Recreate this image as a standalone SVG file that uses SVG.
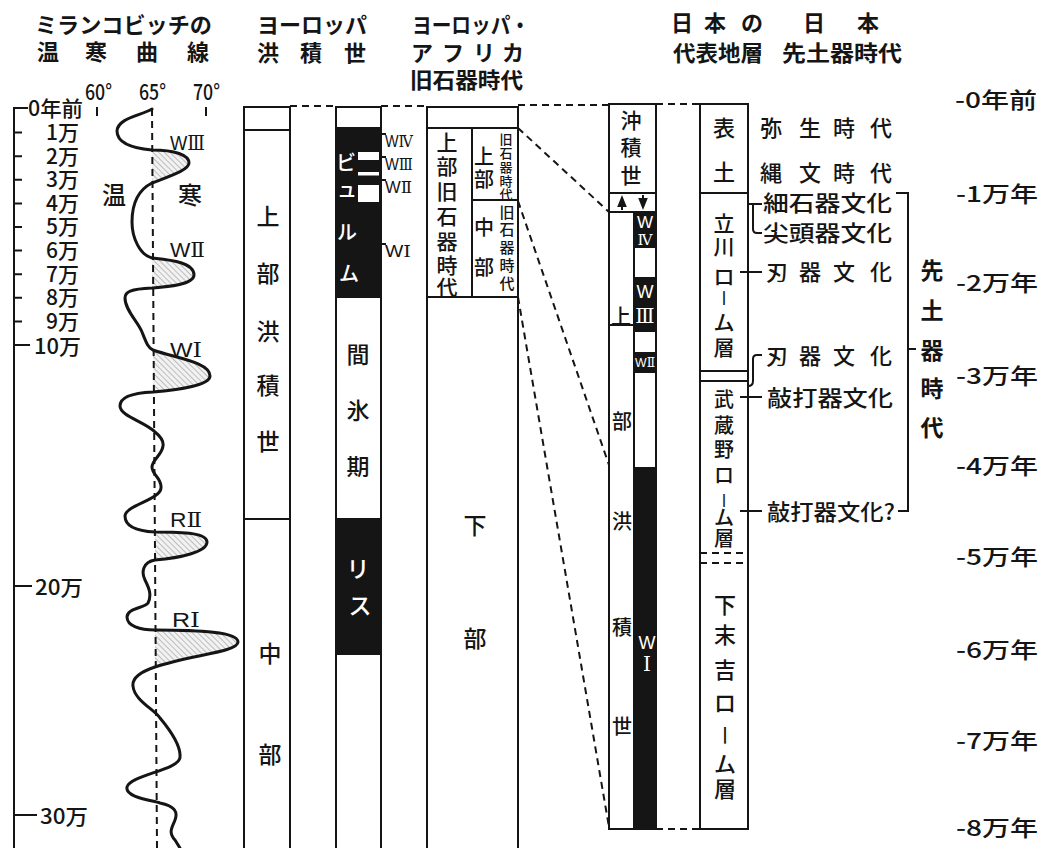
<svg xmlns="http://www.w3.org/2000/svg" width="1048" height="848" viewBox="0 0 1048 848">
<style>
.t{font-family:"Noto Sans CJK JP","Noto Sans CJK SC",sans-serif;fill:#151515;font-weight:500}
.h{font-size:22px;font-weight:600}
.bd{font-weight:700}
.m{text-anchor:middle}
.e{text-anchor:end}
.lat{font-family:"Liberation Sans",sans-serif;fill:#151515}
.ser{font-family:"DejaVu Serif","Liberation Serif",serif}
.t.w,.lat.w,.w{fill:#fff}
.ln{stroke:#151515;stroke-width:2;fill:none}
.thk{stroke:#151515;stroke-width:3;fill:none;stroke-linecap:round;stroke-linejoin:round}
.dsh{stroke:#151515;stroke-width:2;fill:none;stroke-dasharray:7 5}
.blk{fill:#151515}
.hat{fill:url(#hatch)}
</style>
<defs>
<pattern id="hatch" width="4" height="4" patternUnits="userSpaceOnUse" patternTransform="rotate(-45)">
<rect width="4" height="4" fill="#f2f2f2"/>
<line x1="0" y1="0" x2="0" y2="4" stroke="#9a9a9a" stroke-width="1.2"/>
</pattern>
<marker id="ah" viewBox="0 0 10 10" refX="5" refY="5" markerWidth="6" markerHeight="6" orient="auto">
<path d="M0,1 L10,5 L0,9 Z" fill="#151515"/>
</marker>
</defs>
<rect width="1048" height="848" fill="#fff"/>

<!-- headers -->
<g id="headers" class="t h">
<text x="35" y="33" textLength="177" lengthAdjust="spacingAndGlyphs">ミランコビッチの</text>
<text class="m"><tspan x="48" y="60">温</tspan><tspan x="96" y="60">寒</tspan><tspan x="147" y="60">曲</tspan><tspan x="198" y="60">線</tspan></text>
<text x="257" y="33" textLength="110" lengthAdjust="spacingAndGlyphs">ヨーロッパ</text>
<text class="m"><tspan x="268" y="61">洪</tspan><tspan x="311" y="61">積</tspan><tspan x="355" y="61">世</tspan></text>
<text x="412" y="33" textLength="118" lengthAdjust="spacingAndGlyphs">ヨーロッパ・</text>
<text class="m"><tspan x="422" y="61">ア</tspan><tspan x="453" y="61">フ</tspan><tspan x="484" y="61">リ</tspan><tspan x="513" y="61">カ</tspan></text>
<text x="410" y="88" textLength="113" lengthAdjust="spacingAndGlyphs">旧石器時代</text>
<text class="m"><tspan x="682" y="31">日</tspan><tspan x="715" y="31">本</tspan><tspan x="752" y="31">の</tspan><tspan x="814" y="31">日</tspan><tspan x="868" y="31">本</tspan></text>
<text x="673" y="61" textLength="90" lengthAdjust="spacingAndGlyphs">代表地層</text>
<text x="782" y="61" textLength="120" lengthAdjust="spacingAndGlyphs">先土器時代</text>
</g>

<!-- Milankovitch curve panel -->
<g id="curve-panel">
<path class="ln" d="M28,108 H14 V848" stroke-width="2.5"/>
<path class="ln" d="M14,132.6 H22 M14,156.2 H22 M14,179.8 H22 M14,203.4 H22 M14,227 H22 M14,250.6 H22 M14,274.2 H22 M14,297.8 H22 M14,321.4 H22 M14,345 H30 M14,586 H32 M14,815 H37"/>
<g class="t" font-size="21">
<text x="28" y="115.5" textLength="55" lengthAdjust="spacingAndGlyphs">0年前</text>
<text class="e" x="79" y="140">1万</text>
<text class="e" x="79" y="164">2万</text>
<text class="e" x="79" y="187">3万</text>
<text class="e" x="79" y="211">4万</text>
<text class="e" x="79" y="234">5万</text>
<text class="e" x="79" y="258">6万</text>
<text class="e" x="79" y="282">7万</text>
<text class="e" x="79" y="305">8万</text>
<text class="e" x="79" y="329">9万</text>
<text x="34" y="354" textLength="47" lengthAdjust="spacingAndGlyphs">10万</text>
<text x="35" y="595" textLength="48" lengthAdjust="spacingAndGlyphs">20万</text>
<text x="40" y="824" textLength="48" lengthAdjust="spacingAndGlyphs">30万</text>
</g>
<g class="t" font-size="22">
<text x="85" y="100" textLength="27" lengthAdjust="spacingAndGlyphs">60°</text>
<text x="139" y="100" textLength="27" lengthAdjust="spacingAndGlyphs">65°</text>
<text x="193" y="100" textLength="27" lengthAdjust="spacingAndGlyphs">70°</text>
</g>
<path class="ln" d="M97,107 V116 M206,107 V116"/>
<path class="hat" d="M152,150 C175,150 189,155 189,163 C189,170 170,176 152,183 Z"/>
<path class="hat" d="M152,258 C170,260 194,262 194,275 C194,285 165,287 152,288 Z"/>
<path class="hat" d="M153,350 C175,358 210,362 210,376 C210,386 175,390 153,392 Z"/>
<path class="hat" d="M155,532 C185,532 207,533 207,542 C207,552 180,558 155,560 Z"/>
<path class="hat" d="M155,630 C200,630 238,632 238,642 C238,652 190,655 155,667 Z"/>
<path class="dsh" d="M152,109 L157,848" stroke-dasharray="10 6"/>
<path class="thk" d="M152,109 C140,116 118,118 117,131 C117,142 130,148 152,150 C175,150 189,155 189,163 C189,170 170,176 152,183 C138,190 132,205 132,222 C132,238 140,255 152,258 C170,260 194,262 194,275 C194,285 165,287 152,288 C130,289 125,292 125,298 C125,310 138,322 142,332 C146,342 148,348 153,350 C175,358 210,362 210,376 C210,386 175,390 153,392 C130,393 120,398 120,406 C120,416 145,422 155,432 C160,436 164,440 163,446 C162,455 152,460 152,467 C152,475 162,478 161,488 C160,500 126,505 125,516 C125,526 135,531 155,532 C185,532 207,533 207,542 C207,552 180,558 155,560 C143,562 141,572 145,580 C149,588 152,595 148,603 C145,608 127,608 127,617 C127,626 140,630 155,630 C200,630 238,632 238,642 C238,652 190,655 155,667 C140,672 132,678 133,686 C134,700 155,710 160,718 C170,730 181,745 180,757 C180,770 130,775 127,787 C125,797 150,800 160,803 C175,806 178,812 175,820 C172,828 168,832 175,840 L180,848"/>
<g class="t" font-size="24"><text class="m" x="114" y="204">温</text><text class="m" x="190" y="204">寒</text></g>
<g class="lat" font-size="20">
<text x="170" y="150" textLength="35" lengthAdjust="spacingAndGlyphs">W<tspan class="ser">Ⅲ</tspan></text>
<text x="170" y="257" textLength="35" lengthAdjust="spacingAndGlyphs">W<tspan class="ser">Ⅱ</tspan></text>
<text x="170" y="357" textLength="32" lengthAdjust="spacingAndGlyphs">W<tspan class="ser">Ⅰ</tspan></text>
<text x="170" y="527" textLength="32" lengthAdjust="spacingAndGlyphs">R<tspan class="ser">Ⅱ</tspan></text>
<text x="172" y="627" textLength="28" lengthAdjust="spacingAndGlyphs">R<tspan class="ser">Ⅰ</tspan></text>
</g>
</g>

<!-- Europe Pleistocene column -->
<g id="col-pleistocene">
<path class="ln" d="M244,848 V107 H290 V848 M244,130 H290 M244,519 H290"/>
<text class="t m" font-size="23"><tspan x="268" y="224.5">上</tspan><tspan x="268" y="281.5">部</tspan><tspan x="268" y="339.5">洪</tspan><tspan x="268" y="393.5">積</tspan><tspan x="268" y="449.5">世</tspan><tspan x="270" y="661.5">中</tspan><tspan x="270" y="762.5">部</tspan></text>
</g>

<!-- Europe glacial stages column -->
<g id="col-europe">
<rect class="blk" x="336" y="128" width="45" height="170"/>
<rect fill="#fff" x="358" y="152" width="21" height="8"/>
<rect fill="#fff" x="358" y="172" width="21" height="3.5"/>
<rect fill="#fff" x="358" y="185" width="21" height="17"/>
<rect class="blk" x="336" y="518" width="45" height="137"/>
<path class="ln" d="M336,848 V107 H381 V848 M336,128 H381"/>
<text class="t m w" font-size="20"><tspan x="346" y="170">ビ</tspan><tspan x="347" y="197">ュ</tspan><tspan x="347" y="239.5">ル</tspan><tspan x="349" y="280.5">ム</tspan></text>
<text class="t m" font-size="23"><tspan x="358" y="362.5">間</tspan><tspan x="358" y="418.5">氷</tspan><tspan x="358" y="474.5">期</tspan></text>
<text class="t m w" font-size="23"><tspan x="358" y="576.5">リ</tspan><tspan x="360" y="613.5">ス</tspan></text>
<path class="ln" d="M381,134 H386 M381,157 H386 M381,180 H386 M381,244 H386" stroke-width="1.5"/>
<g class="lat" font-size="17">
<text x="385" y="147" textLength="28" lengthAdjust="spacingAndGlyphs">W<tspan class="ser">Ⅳ</tspan></text>
<text x="385" y="170" textLength="28" lengthAdjust="spacingAndGlyphs">W<tspan class="ser">Ⅲ</tspan></text>
<text x="385" y="193" textLength="27" lengthAdjust="spacingAndGlyphs">W<tspan class="ser">Ⅱ</tspan></text>
<text x="385" y="257" textLength="26" lengthAdjust="spacingAndGlyphs">W<tspan class="ser">Ⅰ</tspan></text>
</g>
</g>

<!-- Europe/Africa paleolithic column -->
<g id="col-paleolithic">
<path class="ln" d="M427,848 V107 H518 V848 M427,128 H518 M472,128 V297 M472,200 H518 M427,297 H518"/>
<text class="t m" font-size="21"><tspan x="447" y="149.8">上</tspan><tspan x="447" y="173.8">部</tspan><tspan x="447" y="198.8">旧</tspan><tspan x="447" y="223.8">石</tspan><tspan x="447" y="248.8">器</tspan><tspan x="447" y="272.8">時</tspan><tspan x="447" y="294.8">代</tspan></text>
<text class="t m" font-size="20"><tspan x="484" y="164.4">上</tspan><tspan x="484" y="187.4">部</tspan><tspan x="484" y="235.4">中</tspan><tspan x="484" y="275.4">部</tspan></text>
<text class="t m" font-size="13"><tspan x="506" y="143.8">旧</tspan><tspan x="506" y="157.8">石</tspan><tspan x="506" y="171.8">器</tspan><tspan x="506" y="185.8">時</tspan><tspan x="506" y="198.8">代</tspan></text>
<text class="t m" font-size="15"><tspan x="507" y="217.5">旧</tspan><tspan x="507" y="234.5">石</tspan><tspan x="507" y="252.5">器</tspan><tspan x="507" y="270.5">時</tspan><tspan x="507" y="288.5">代</tspan></text>
<text class="t m" font-size="23"><tspan x="475" y="533.5">下</tspan><tspan x="475" y="646.5">部</tspan></text>
</g>

<!-- Japan representative strata (Holocene / Pleistocene) -->
<g id="col-japan-strata">
<rect class="blk" x="634" y="212" width="22" height="36"/>
<rect class="blk" x="634" y="277" width="22" height="55"/>
<rect class="blk" x="634" y="352" width="22" height="21"/>
<rect class="blk" x="634" y="467" width="22" height="362"/>
<path class="ln" d="M609,829 V104 H656 V829 Z M609,193 H656 M609,212 H656 M634,212 V829 M609,325 H633"/>
<path class="ln" d="M622,210 V201" stroke-width="1.5" marker-end="url(#ah)"/>
<path class="ln" d="M643,195 V204" stroke-width="1.5" marker-end="url(#ah)"/>
<text class="t m" font-size="21"><tspan x="631" y="127.8">沖</tspan><tspan x="631" y="154.8">積</tspan><tspan x="631" y="182.8">世</tspan></text>
<text class="t m" font-size="20"><tspan x="621" y="324.4">上</tspan><tspan x="622" y="429.4">部</tspan><tspan x="622" y="529.4">洪</tspan><tspan x="622" y="635.4">積</tspan><tspan x="622" y="734.4">世</tspan></text>
<g class="lat w m" font-size="15">
<text class="lat w" x="645" y="228" font-size="17">W</text><text class="lat w ser" x="645" y="245">Ⅳ</text>
<text class="lat w" x="645" y="297.5" font-size="18">W</text><text class="lat w ser" x="645" y="323" font-size="20">Ⅲ</text>
<text class="lat w" x="645" y="367" font-size="13" textLength="20" lengthAdjust="spacingAndGlyphs">W<tspan class="ser">Ⅱ</tspan></text>
<text class="lat w" x="647" y="648.5" font-size="18">W</text><text class="lat w ser" x="647" y="671" font-size="20">Ⅰ</text>
</g>
</g>

<!-- Japan strata (loam layers) -->
<g id="col-japan-loam">
<path class="ln" d="M700,829 V104 H748 V829 Z M700,193 H748 M700,371 H748 M700,381 H748"/>
<path class="dsh" d="M700,553 H748 M700,563 H748" stroke-dasharray="6 4"/>
<text class="t m" font-size="22"><tspan x="724" y="136">表</tspan><tspan x="724" y="180">土</tspan></text>
<text class="t m" font-size="21"><tspan x="724" y="230.8">立</tspan><tspan x="724" y="253.8">川</tspan><tspan x="724" y="283.8">ロ</tspan><tspan x="724" y="303.5" font-size="15">丨</tspan><tspan x="724" y="329.8">ム</tspan><tspan x="724" y="354.8">層</tspan></text>
<text class="t m" font-size="20"><tspan x="724" y="407.4">武</tspan><tspan x="724" y="433.4">蔵</tspan><tspan x="724" y="457.4">野</tspan><tspan x="724" y="483.4">ロ</tspan><tspan x="724" y="504.5" font-size="14">丨</tspan><tspan x="724" y="525.4">ム</tspan><tspan x="724" y="546.4">層</tspan></text>
<text class="t m" font-size="22"><tspan x="725" y="613">下</tspan><tspan x="725" y="643">末</tspan><tspan x="725" y="678">吉</tspan><tspan x="725" y="711">ロ</tspan><tspan x="725" y="742" font-size="18">丨</tspan><tspan x="725" y="772">ム</tspan><tspan x="725" y="797">層</tspan></text>
</g>

<!-- Japan preceramic cultures -->
<g id="col-preceramic">
<g class="t" font-size="22">
<text class="m"><tspan x="771" y="136">弥</tspan><tspan x="810" y="136">生</tspan><tspan x="844" y="136">時</tspan><tspan x="881" y="136">代</tspan></text>
<text class="m"><tspan x="771" y="181">縄</tspan><tspan x="810" y="181">文</tspan><tspan x="844" y="181">時</tspan><tspan x="881" y="181">代</tspan></text>
<text x="763" y="211" textLength="129" lengthAdjust="spacingAndGlyphs">細石器文化</text>
<text x="763" y="241" textLength="129" lengthAdjust="spacingAndGlyphs">尖頭器文化</text>
<text class="m"><tspan x="777" y="280">刃</tspan><tspan x="810" y="280">器</tspan><tspan x="844" y="280">文</tspan><tspan x="881" y="280">化</tspan></text>
<text class="m"><tspan x="777" y="364">刃</tspan><tspan x="810" y="364">器</tspan><tspan x="844" y="364">文</tspan><tspan x="881" y="364">化</tspan></text>
<text x="767" y="406" textLength="126" lengthAdjust="spacingAndGlyphs">敲打器文化</text>
<text x="767" y="520" textLength="128" lengthAdjust="spacingAndGlyphs">敲打器文化?</text>
</g>
<text class="t m bd" font-size="23"><tspan x="932" y="278.5">先</tspan><tspan x="932" y="319">土</tspan><tspan x="932" y="358.5">器</tspan><tspan x="932" y="396.5">時</tspan><tspan x="932" y="435.5">代</tspan></text>
</g>

<!-- right time axis -->
<g id="right-axis" class="t" font-size="22">
<text x="955" y="108" textLength="82" lengthAdjust="spacingAndGlyphs">-0年前</text>
<text x="956" y="202" textLength="82" lengthAdjust="spacingAndGlyphs">-1万年</text>
<text x="956" y="291" textLength="82" lengthAdjust="spacingAndGlyphs">-2万年</text>
<text x="956" y="384" textLength="82" lengthAdjust="spacingAndGlyphs">-3万年</text>
<text x="956" y="474" textLength="82" lengthAdjust="spacingAndGlyphs">-4万年</text>
<text x="956" y="565" textLength="82" lengthAdjust="spacingAndGlyphs">-5万年</text>
<text x="956" y="658" textLength="82" lengthAdjust="spacingAndGlyphs">-6万年</text>
<text x="956" y="749" textLength="82" lengthAdjust="spacingAndGlyphs">-7万年</text>
<text x="956" y="836" textLength="82" lengthAdjust="spacingAndGlyphs">-8万年</text>
</g>

<!-- connectors -->
<g id="connectors">
<path class="dsh" d="M290,106 H336 M381,106 H427 M518,105 H609 M656,104 H700"/>
<path class="dsh" d="M518,128 L609,212 M518,201 L609,465 M518,297 L609,827 M656,829 H700"/>
<path class="ln" d="M748,204 H762 M753,204 V229 Q753,233 757,233 H762 M740,272 H762 M762,355 H757 Q753,355 753,359 V381 Q753,386 748,386 M740,397 H762 M740,511 H762 M896,193 H908 V511 H898 M908,349 H916" stroke-width="1.8"/>
</g>
</svg>
